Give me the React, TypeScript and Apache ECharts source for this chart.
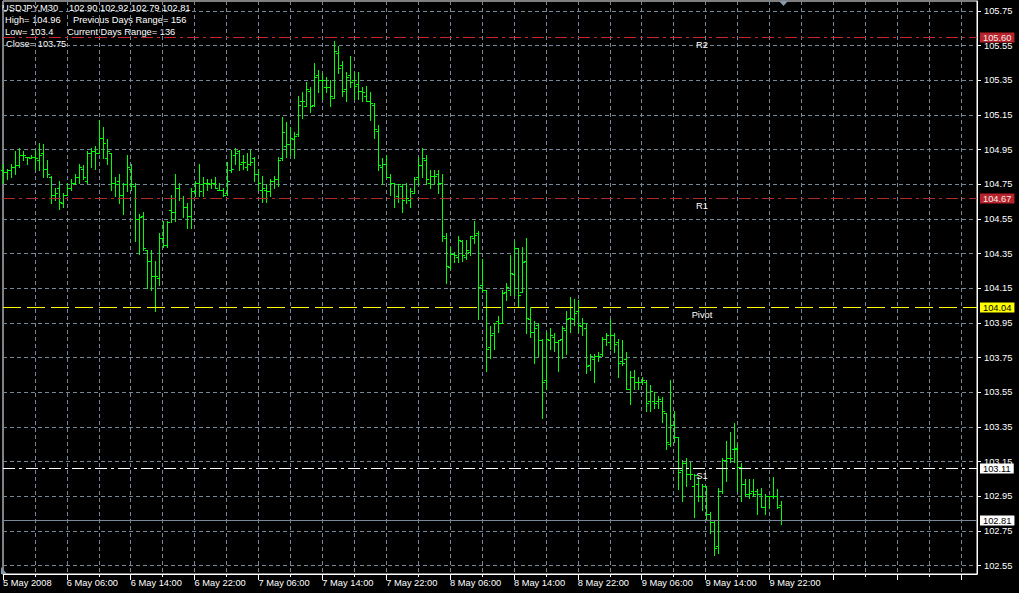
import React, { useEffect, useRef } from "react";
import * as echarts from "echarts";

const FONT = "Liberation Sans";

const headerTitle = "USDJPY,M30";
const headerQuote = "102.90 102.92 102.79 102.81";
const headerLeft = ["High= 104.96", "Low= 103.4", "Close= 103.75"];
const headerRight = ["Previous Days Range= 156", "Current Days Range= 136"];

const xTickLabels = [
  "5 May 2008", "6 May 06:00", "6 May 14:00", "6 May 22:00", "7 May 06:00",
  "7 May 14:00", "7 May 22:00", "8 May 06:00", "8 May 14:00", "8 May 22:00",
  "9 May 06:00", "9 May 14:00", "9 May 22:00",
];
const yTickValues = [
  102.55, 102.75, 102.95, 103.15, 103.35, 103.55, 103.75, 103.95,
  104.15, 104.35, 104.55, 104.75, 104.95, 105.15, 105.35, 105.55, 105.75,
];

const opens = [
  104.83, 104.82, 104.83, 104.85, 104.86, 104.92, 104.91, 104.90, 104.91, 104.89,
  104.93, 104.84, 104.79, 104.69, 104.73, 104.64, 104.69, 104.73, 104.76, 104.79,
  104.84, 104.77, 104.93, 104.94, 104.93, 105.02, 104.90, 104.93, 104.76, 104.77,
  104.69, 104.75, 104.84, 104.74, 104.55, 104.57, 104.37, 104.31, 104.22, 104.21,
  104.44, 104.40, 104.60, 104.59, 104.73, 104.67, 104.62, 104.57, 104.71, 104.76,
  104.75, 104.76, 104.75, 104.76, 104.72, 104.72, 104.70, 104.83, 104.92, 104.94,
  104.88, 104.85, 104.87, 104.90, 104.81, 104.72, 104.72, 104.71, 104.77, 104.78,
  104.90, 104.97, 104.98, 105.01, 105.04, 105.23, 105.20, 105.29, 105.21, 105.38,
  105.35, 105.31, 105.31, 105.25, 105.51, 105.44, 105.30, 105.38, 105.35, 105.33,
  105.29, 105.26, 105.23, 105.21, 105.06, 104.85, 104.87, 104.79, 104.76, 104.68,
  104.74, 104.67, 104.66, 104.70, 104.79, 104.86, 104.89, 104.76, 104.80, 104.81,
  104.76, 104.44, 104.27, 104.35, 104.33, 104.42, 104.33, 104.36, 104.44, 104.47,
  104.17, 104.14, 103.81, 103.89, 103.96, 103.95, 104.13, 104.14, 104.23, 104.38,
  104.13, 104.31, 103.97, 103.90, 103.94, 103.85, 103.62, 103.85, 103.87, 103.84,
  103.86, 103.91, 103.98, 103.97, 104.02, 103.93, 103.92, 103.71, 103.74, 103.76,
  103.77, 103.86, 103.84, 103.88, 103.84, 103.73, 103.74, 103.57, 103.64, 103.61,
  103.61, 103.61, 103.50, 103.50, 103.50, 103.50, 103.43, 103.25, 103.36, 103.29,
  103.10, 103.14, 103.08, 103.01, 103.02, 102.95, 103.01, 102.85, 102.80, 102.66,
  102.98, 103.16, 103.17, 103.22, 103.22, 103.12, 103.02, 102.96, 102.98, 102.98,
  102.96, 102.89, 102.95, 102.95, 102.95, 102.90,
];
const highs = [
  104.87, 104.84, 104.87, 104.94, 104.96, 104.94, 104.91, 104.92, 104.95, 104.99,
  104.98, 104.89, 104.80, 104.73, 104.77, 104.70, 104.76, 104.78, 104.81, 104.87,
  104.86, 104.94, 104.96, 104.97, 105.12, 105.08, 105.01, 104.93, 104.79, 104.81,
  104.76, 104.92, 104.87, 104.76, 104.58, 104.59, 104.37, 104.37, 104.31, 104.47,
  104.54, 104.54, 104.69, 104.81, 104.76, 104.68, 104.64, 104.73, 104.77, 104.87,
  104.79, 104.78, 104.78, 104.79, 104.76, 104.73, 104.88, 104.95, 104.96, 104.95,
  104.92, 104.93, 104.95, 104.91, 104.84, 104.80, 104.75, 104.78, 104.80, 104.91,
  105.14, 105.11, 105.08, 105.05, 105.26, 105.28, 105.34, 105.31, 105.45, 105.41,
  105.39, 105.37, 105.35, 105.58, 105.55, 105.46, 105.40, 105.49, 105.40, 105.40,
  105.31, 105.32, 105.28, 105.22, 105.09, 104.90, 104.92, 104.81, 104.76, 104.75,
  104.75, 104.76, 104.73, 104.79, 104.91, 104.96, 104.92, 104.83, 104.83, 104.83,
  104.81, 104.47, 104.39, 104.36, 104.45, 104.43, 104.43, 104.45, 104.54, 104.48,
  104.32, 104.14, 103.93, 103.95, 103.99, 104.14, 104.18, 104.34, 104.42, 104.38,
  104.39, 104.44, 104.04, 103.96, 103.95, 103.86, 103.90, 103.92, 103.89, 103.85,
  103.93, 104.02, 104.10, 104.09, 104.08, 103.98, 103.95, 103.77, 103.77, 103.78,
  103.87, 103.89, 103.97, 103.89, 103.86, 103.85, 103.78, 103.67, 103.68, 103.64,
  103.64, 103.62, 103.59, 103.55, 103.53, 103.52, 103.43, 103.62, 103.44, 103.29,
  103.16, 103.17, 103.15, 103.08, 103.06, 103.02, 103.01, 102.86, 102.81, 103.00,
  103.17, 103.27, 103.32, 103.37, 103.25, 103.14, 103.05, 103.05, 103.05, 102.99,
  103.00, 102.96, 102.95, 103.06, 102.99, 102.92,
];
const lows = [
  104.76, 104.78, 104.79, 104.81, 104.85, 104.89, 104.87, 104.90, 104.84, 104.83,
  104.79, 104.79, 104.64, 104.66, 104.61, 104.62, 104.69, 104.72, 104.75, 104.76,
  104.78, 104.76, 104.85, 104.84, 104.93, 104.90, 104.87, 104.72, 104.68, 104.64,
  104.58, 104.71, 104.72, 104.42, 104.35, 104.37, 104.15, 104.14, 104.02, 104.17,
  104.39, 104.39, 104.53, 104.54, 104.66, 104.56, 104.50, 104.50, 104.68, 104.68,
  104.68, 104.72, 104.73, 104.73, 104.72, 104.68, 104.69, 104.82, 104.87, 104.83,
  104.84, 104.83, 104.86, 104.77, 104.72, 104.65, 104.65, 104.68, 104.73, 104.74,
  104.89, 104.91, 104.92, 104.90, 105.03, 105.13, 105.20, 105.17, 105.20, 105.28,
  105.24, 105.28, 105.20, 105.25, 105.39, 105.26, 105.23, 105.31, 105.24, 105.24,
  105.23, 105.23, 105.12, 105.02, 104.83, 104.75, 104.79, 104.69, 104.62, 104.65,
  104.59, 104.64, 104.62, 104.70, 104.75, 104.79, 104.75, 104.73, 104.75, 104.70,
  104.42, 104.18, 104.26, 104.30, 104.30, 104.31, 104.32, 104.34, 104.41, 103.97,
  104.13, 103.67, 103.75, 103.80, 103.90, 103.95, 104.08, 104.11, 104.11, 104.05,
  104.13, 103.89, 103.87, 103.72, 103.76, 103.40, 103.57, 103.80, 103.79, 103.67,
  103.75, 103.77, 103.90, 103.94, 103.90, 103.88, 103.66, 103.68, 103.61, 103.73,
  103.76, 103.82, 103.80, 103.78, 103.64, 103.71, 103.57, 103.48, 103.57, 103.57,
  103.60, 103.44, 103.44, 103.46, 103.46, 103.38, 103.22, 103.24, 103.26, 102.99,
  102.92, 103.01, 103.05, 102.83, 102.92, 102.87, 102.81, 102.74, 102.61, 102.62,
  102.97, 103.04, 103.15, 103.15, 102.98, 102.92, 102.95, 102.94, 102.95, 102.85,
  102.89, 102.85, 102.88, 102.94, 102.88, 102.79,
];
const closes = [
  104.82, 104.83, 104.85, 104.86, 104.92, 104.92, 104.91, 104.91, 104.90, 104.92,
  104.84, 104.81, 104.69, 104.70, 104.65, 104.69, 104.73, 104.76, 104.79, 104.85,
  104.79, 104.93, 104.94, 104.93, 105.02, 104.99, 104.94, 104.76, 104.75, 104.69,
  104.75, 104.85, 104.75, 104.55, 104.56, 104.38, 104.31, 104.22, 104.22, 104.44,
  104.40, 104.53, 104.59, 104.73, 104.67, 104.62, 104.57, 104.71, 104.76, 104.71,
  104.76, 104.76, 104.76, 104.73, 104.72, 104.69, 104.77, 104.84, 104.93, 104.87,
  104.88, 104.87, 104.88, 104.81, 104.76, 104.73, 104.71, 104.77, 104.78, 104.89,
  105.05, 104.98, 105.02, 105.03, 105.21, 105.23, 105.30, 105.20, 105.37, 105.35,
  105.35, 105.31, 105.26, 105.52, 105.42, 105.29, 105.37, 105.34, 105.32, 105.29,
  105.28, 105.23, 105.22, 105.07, 104.86, 104.87, 104.79, 104.76, 104.67, 104.75,
  104.66, 104.67, 104.71, 104.78, 104.86, 104.90, 104.78, 104.80, 104.80, 104.76,
  104.45, 104.28, 104.35, 104.34, 104.43, 104.34, 104.37, 104.45, 104.46, 104.16,
  104.14, 103.80, 103.88, 103.95, 103.95, 104.12, 104.16, 104.24, 104.38, 104.11,
  104.30, 103.98, 103.90, 103.92, 103.85, 103.61, 103.86, 103.88, 103.84, 103.85,
  103.92, 103.97, 103.98, 104.01, 103.94, 103.95, 103.70, 103.76, 103.76, 103.76,
  103.86, 103.88, 103.88, 103.83, 103.72, 103.72, 103.57, 103.64, 103.61, 103.61,
  103.62, 103.49, 103.56, 103.49, 103.51, 103.44, 103.26, 103.36, 103.29, 103.09,
  103.14, 103.08, 103.08, 103.07, 102.95, 103.01, 102.85, 102.80, 102.65, 102.98,
  103.16, 103.17, 103.17, 103.23, 103.12, 103.02, 102.96, 102.97, 102.96, 102.96,
  102.89, 102.95, 102.95, 102.95, 102.89, 102.81,
];

const levelNames = ["R2", "R1", "Pivot", "S1", ""];
const levelValues = [105.6, 104.67, 104.04, 103.11, 102.81];

const SLOT_COUNT = 245;
const LABEL_EVERY = 16;
const LEVEL_LABEL_SLOT = 175;

export default function App() {
  const ref = useRef<HTMLDivElement>(null);

  useEffect(() => {
    document.body.style.margin = "0";
    document.body.style.background = "#000";
    const chart = echarts.init(ref.current!, null, { renderer: "svg" });

    const slots = Array.from({ length: SLOT_COUNT }, (_, i) => String(i));
    const labelAt: Record<number, string> = {};
    xTickLabels.forEach((t, k) => (labelAt[k * LABEL_EVERY] = t));

    const bars = opens.map((o, i) => [i, o, highs[i], lows[i], closes[i]]);
    const levels = levelValues.map((v, k) => [LEVEL_LABEL_SLOT, v, k]);

    const green = "#00FF00";
    const gridColor = "#778899";
    const axisFont = { color: "#fff", fontSize: 9.3, fontFamily: FONT };

    const levelStyles = [
      { color: "#C8252B", dash: [12, 4, 3, 4], bg: "#B8222A", fg: "#F0F0F0" },
      { color: "#B02A2A", dash: [12, 4, 3, 4], bg: "#B8222A", fg: "#F0F0F0" },
      { color: "#FFFF00", dash: [18, 6], bg: "#FFFF00", fg: "#000000" },
      { color: "#FFFFFF", dash: [12, 4, 3, 4], bg: "#FFFFFF", fg: "#000000" },
      { color: gridColor, dash: null, bg: "#FFFFFF", fg: "#000000" },
    ];

    const headerText = (text: string, x: number, y: number) => ({
      type: "text",
      x,
      y,
      silent: true,
      style: { text, fill: "#fff", fontSize: 9.3, fontFamily: FONT, textVerticalAlign: "middle" },
    });

    chart.setOption({
      animation: false,
      backgroundColor: "#000",
      grid: {
        left: 1,
        right: 42,
        top: 1,
        bottom: 19,
        show: true,
        borderColor: "#fff",
        borderWidth: 1,
        backgroundColor: "#000",
      },
      xAxis: [
        {
          type: "category",
          data: slots,
          boundaryGap: false,
          axisLine: { show: true, lineStyle: { color: "#fff" } },
          axisTick: { show: true, interval: 7, length: 3, lineStyle: { color: "#fff" } },
          axisLabel: {
            interval: LABEL_EVERY - 1,
            align: "left",
            margin: 4,
            ...axisFont,
            formatter: (_v: string, idx: number) => labelAt[idx] || "",
          },
          splitLine: { show: true, interval: 7, lineStyle: { color: gridColor, type: [4, 3] } },
        },
        {
          type: "category",
          data: slots,
          boundaryGap: false,
          position: "bottom",
          axisLine: { show: false },
          axisTick: { show: true, interval: LABEL_EVERY - 1, length: 6, lineStyle: { color: "#fff" } },
          axisLabel: { show: false },
          splitLine: { show: false },
        },
      ],
      yAxis: {
        type: "value",
        position: "right",
        min: 102.501,
        max: 105.808,
        axisLine: { show: true, lineStyle: { color: "#fff" } },
        axisTick: { show: true, customValues: yTickValues, length: 4, lineStyle: { color: "#fff" } },
        axisLabel: {
          customValues: yTickValues,
          margin: 7,
          ...axisFont,
          formatter: (v: number) => v.toFixed(2),
        },
        splitLine: { show: true, lineStyle: { color: gridColor, type: [4, 3] } },
      },
      series: [
        {
          type: "custom",
          silent: true,
          data: bars,
          encode: { x: 0, y: [1, 2, 3, 4] },
          renderItem: (_params: any, api: any) => {
            const idx = api.value(0);
            const xPix = Math.round(api.coord([idx, api.value(2)])[0]);
            const yH = Math.round(api.coord([idx, api.value(2)])[1]);
            const yL = Math.round(api.coord([idx, api.value(3)])[1]);
            const yO = Math.round(api.coord([idx, api.value(1)])[1]) + 0.5;
            const yC = Math.round(api.coord([idx, api.value(4)])[1]) + 0.5;
            const st = { stroke: green, lineWidth: 1 };
            return {
              type: "group",
              children: [
                { type: "line", shape: { x1: xPix + 0.5, y1: yH, x2: xPix + 0.5, y2: yL + 1 }, style: st },
                { type: "line", shape: { x1: xPix - 2, y1: yO, x2: xPix, y2: yO }, style: st },
                { type: "line", shape: { x1: xPix + 1, y1: yC, x2: xPix + 3, y2: yC }, style: st },
              ],
            };
          },
          z: 3,
        },
        {
          type: "custom",
          silent: true,
          clip: false,
          data: levels,
          encode: { x: 0, y: 1 },
          renderItem: (params: any, api: any) => {
            const k = api.value(2);
            const v = api.value(1);
            const s = levelStyles[k];
            const cs = params.coordSys;
            const pt = api.coord([api.value(0), v]);
            const y = Math.round(pt[1]) + 0.5;
            const right = cs.x + cs.width;
            const children: any[] = [
              {
                type: "line",
                shape: { x1: cs.x, y1: y, x2: right, y2: y },
                style: { stroke: s.color, lineWidth: 1, lineDash: s.dash || undefined },
                z2: 1,
              },
              {
                type: "text",
                x: right + 3,
                y: y,
                style: {
                  text: v.toFixed(2),
                  fill: s.fg,
                  backgroundColor: s.bg,
                  padding: [1, 3, 0, 3],
                  fontSize: 9.3,
                  fontFamily: FONT,
                  align: "left",
                  verticalAlign: "middle",
                },
                z2: 10,
              },
            ];
            if (levelNames[k]) {
              children.push({
                type: "text",
                x: Math.round(pt[0]),
                y: y + 7,
                style: {
                  text: levelNames[k],
                  fill: "#fff",
                  fontSize: 9.3,
                  fontFamily: FONT,
                  align: "center",
                  verticalAlign: "middle",
                },
              });
            }
            return { type: "group", children };
          },
          z: 5,
        },
      ],
      graphic: [
        headerText(headerTitle, 2, 8),
        headerText(headerQuote, 69, 8),
        headerText(headerLeft[0], 5, 20),
        headerText(headerRight[0], 73, 20),
        headerText(headerLeft[1], 5, 32),
        headerText(headerRight[1], 67, 32),
        headerText(headerLeft[2], 6, 44),
        {
          type: "polygon",
          silent: true,
          shape: { points: [[779, 1], [788, 1], [783.5, 6]] },
          style: { fill: "#8899AA" },
        },
        {
          type: "polygon",
          silent: true,
          shape: { points: [[1, 567], [1, 574], [7, 574]] },
          style: { fill: "#8899AA" },
        },
      ],
    });

    return () => chart.dispose();
  }, []);

  return (
    <div
      ref={ref}
      style={{ position: "fixed", left: 0, top: 0, width: 1019, height: 593, background: "#000" }}
    />
  );
}
